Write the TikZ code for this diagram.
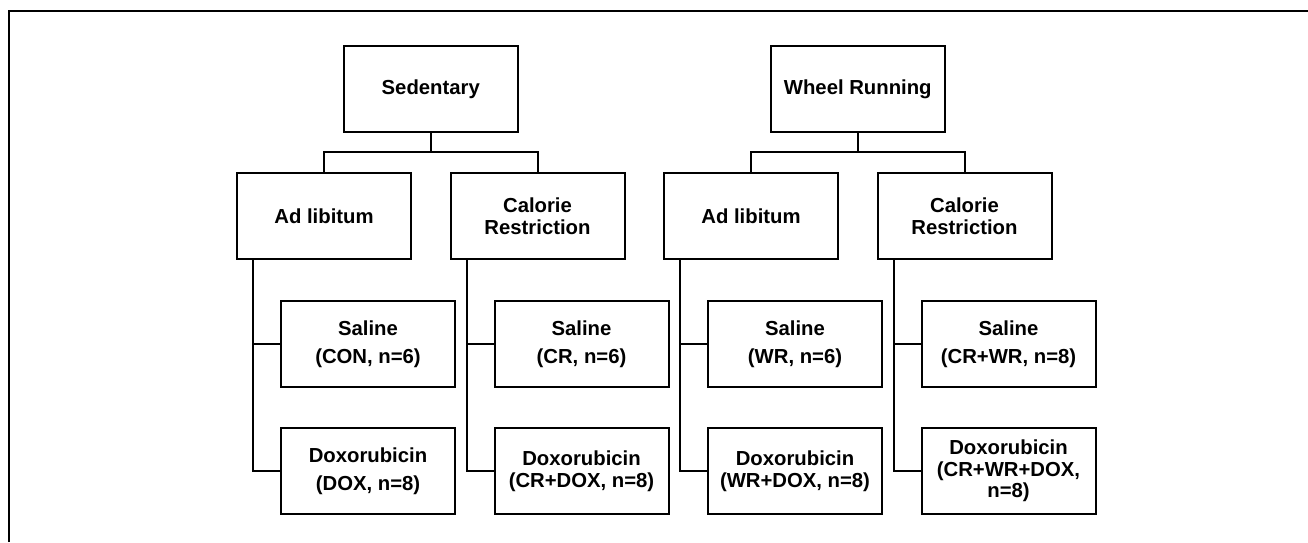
\documentclass[tikz,border=0pt]{standalone}
\usepackage{fontspec}
\setmainfont{Liberation Sans}
\usetikzlibrary{positioning,calc}
\tikzset{
  grp/.style={draw=black, line width=2pt, minimum width=174pt,
    minimum height=86pt, inner sep=2pt, align=center,
    font=\fontsize{20.3}{21.5}\selectfont\bfseries},
  link/.style={line width=2pt}
}

\begin{document}
\begin{tikzpicture}[x=1pt, y=-1pt, node distance=39pt and 37.5pt]
  \useasboundingbox (0,0) rectangle (1308,542);
  % frame
  \draw[link] (9,542) -- (9,10.5) -- (1308,10.5);

  % diet groups
  \node[grp] (sedal) at (324,216) {Ad libitum};
  \node[grp, right=of sedal] (sedcr) {Calorie\\Restriction};
  \node[grp, right=of sedcr] (wral) {Ad libitum};
  \node[grp, right=of wral] (wrcr) {Calorie\\Restriction};

  % activity groups
  \node[grp, above=of $(sedal.north)!0.5!(sedcr.north)$] (sed) {Sedentary};
  \node[grp, above=of $(wral.north)!0.5!(wrcr.north)$] (wr) {Wheel Running};

  % treatment groups
  \node[grp, below=40pt of sedal, xshift=44pt] (sedalsal) {Saline\\[6.5pt](CON, n=6)};
  \node[grp, below=of sedalsal] (sedaldox) {Doxorubicin\\[6.5pt](DOX, n=8)};
  \node[grp, below=40pt of sedcr, xshift=44pt] (sedcrsal) {Saline\\[6.5pt](CR, n=6)};
  \node[grp, below=of sedcrsal] (sedcrdox) {Doxorubicin\\(CR+DOX, n=8)};
  \node[grp, below=40pt of wral, xshift=44pt] (wralsal) {Saline\\[6.5pt](WR, n=6)};
  \node[grp, below=of wralsal] (wraldox) {Doxorubicin\\(WR+DOX, n=8)};
  \node[grp, below=40pt of wrcr, xshift=44pt] (wrcrsal) {Saline\\[6.5pt](CR+WR, n=8)};
  \node[grp, below=of wrcrsal] (wrcrdox) {Doxorubicin\\(CR+WR+DOX,\\n=8)};

  % tree links
  \draw[link] (sed.south) -- ++(0,-19pt) coordinate (sedj);
  \draw[link] (sedal.north) |- (sedj) -| (sedcr.north);
  \draw[link] (wr.south) -- ++(0,-19pt) coordinate (wrj);
  \draw[link] (wral.north) |- (wrj) -| (wrcr.north);

  \draw[link] ([xshift=17pt]sedal.south west) |- (sedalsal.west);
  \draw[link] ([xshift=17pt]sedal.south west) |- (sedaldox.west);
  \draw[link] ([xshift=17pt]sedcr.south west) |- (sedcrsal.west);
  \draw[link] ([xshift=17pt]sedcr.south west) |- (sedcrdox.west);
  \draw[link] ([xshift=17pt]wral.south west) |- (wralsal.west);
  \draw[link] ([xshift=17pt]wral.south west) |- (wraldox.west);
  \draw[link] ([xshift=17pt]wrcr.south west) |- (wrcrsal.west);
  \draw[link] ([xshift=17pt]wrcr.south west) |- (wrcrdox.west);
\end{tikzpicture}
\end{document}
